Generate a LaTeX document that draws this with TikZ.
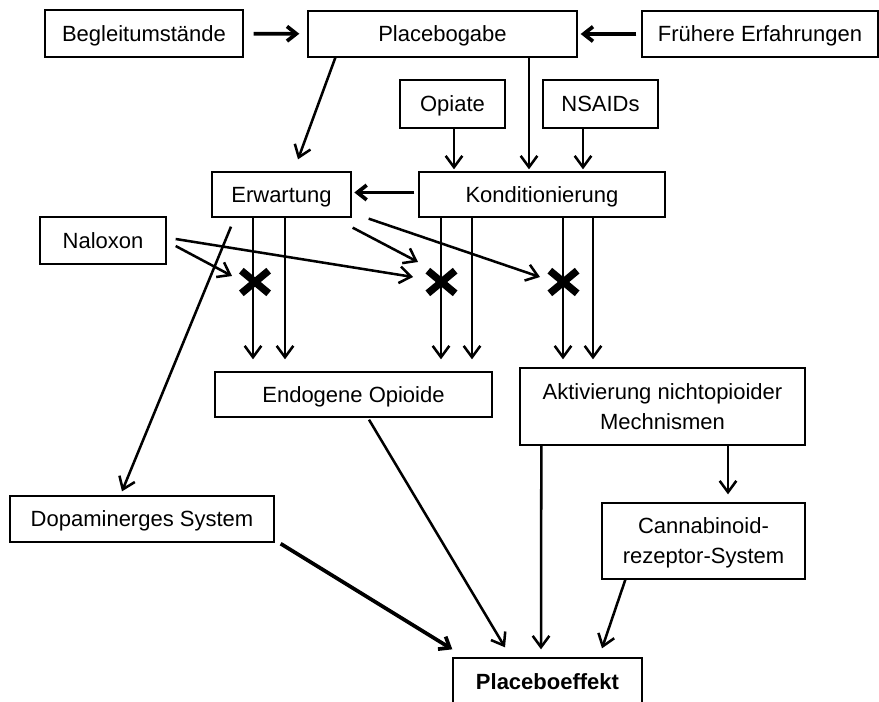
\documentclass[tikz,border=0pt]{standalone}
\usepackage{fontspec}
\setmainfont{Liberation Sans}
\usetikzlibrary{arrows.meta,calc,shapes.misc}
\begin{document}
\begin{tikzpicture}[x=0.75pt,y=-0.75pt,
  box/.style={draw,line width=1pt,inner sep=0pt,align=center,text depth=0pt,
    font=\fontsize{16.5}{22.5}\selectfont},
  arr/.style={line width=1.9pt,-{Straight Barb[length=8.5pt,width=12.5pt]}},
  arrthick/.style={line width=2.8pt,-{Straight Barb[length=7pt,width=11pt]}},
  xmark/.style={cross out,draw,line width=5.5pt,minimum width=15pt,minimum height=11.5pt,inner sep=0pt}]
\useasboundingbox (0,0) rectangle (879,702);
% nodes
\node[box,minimum width=148.5pt,minimum height=35.25pt] (beg) at (144,33.5) {Begleitumstände};
\node[box,minimum width=201.75pt,minimum height=34.5pt] (pg) at (442.5,34) {Placebogabe};
\node[box,minimum width=177pt,minimum height=34.5pt] (fe) at (760,34) {Frühere Erfahrungen};
\node[box,minimum width=78.75pt,minimum height=36pt] (op) at (452.5,104) {Opiate};
\node[box,minimum width=86.25pt,minimum height=36pt] (ns) at (600.5,104) {NSAIDs};
\node[box,minimum width=104.25pt,minimum height=33.75pt] (erw) at (281.5,194.5) {Erwartung};
\node[box,minimum width=184.5pt,minimum height=33.75pt] (kond) at (542,194.5) {Konditionierung};
\node[box,minimum width=94.5pt,minimum height=35.25pt] (nal) at (103,240.5) {Naloxon};
\node[box,minimum width=207.75pt,minimum height=33.75pt] (endo) at (353.5,394.5) {Endogene Opioide};
\node[box,minimum width=213.75pt,minimum height=57.75pt] (akt) at (662.5,406.5) {Aktivierung nichtopioider\\Mechnismen};
\node[box,minimum width=198pt,minimum height=34.5pt] (dop) at (142,519) {Dopaminerges System};
\node[box,minimum width=152.25pt,minimum height=57pt] (can) at (703.5,541) {Cannabinoid-\\rezeptor-System};
\node[box,minimum width=141.75pt,minimum height=35.25pt,font=\fontsize{16.5}{22.5}\selectfont\bfseries] (pe) at (547.5,681.5) {Placeboeffekt};
% crosses
\node[xmark] (x1) at (255,282) {};
\node[xmark] (x2) at (441.5,282) {};
\node[xmark] (x3) at (563.5,282) {};
% columns
\coordinate (c1) at (253,0);
\coordinate (c2) at (285,0);
\coordinate (c3) at (441,0);
\coordinate (c4) at (472,0);
\coordinate (c5) at (563,0);
\coordinate (c6) at (593,0);
% top connectors
\draw[arrthick,shorten <=7.5pt,shorten >=6pt] (beg) -- (pg);
\draw[arrthick,shorten <=3.75pt,shorten >=2.25pt] (fe) -- (pg);
\draw[arr] ($(pg.south west)+(28,0)$) -- ($(erw.north)+(16.5,-12)$);
\draw[arr] ($(pg.south)+(86.5,0)$) -- ($(kond.north)+(-13,-2)$);
\draw[arr] ($(op.south)+(1.5,0)$) -- ($(kond.north)+(-88,-2)$);
\draw[arr] ($(ns.south)+(-17.5,0)$) -- ($(kond.north)+(41,-2)$);
\draw[arrthick,shorten <=3pt,shorten >=2pt] ($(kond.west)+(0,-2)$) -- ($(erw.east)+(0,-2)$);
% vertical arrows
\draw[arr,shorten >=9pt] (erw.south -| c1) -- (endo.north -| c1);
\draw[arr,shorten >=9pt] (erw.south -| c2) -- (endo.north -| c2);
\draw[arr,shorten >=9pt] (kond.south -| c3) -- (endo.north -| c3);
\draw[arr,shorten >=9pt] (kond.south -| c4) -- (endo.north -| c4);
\draw[arr,shorten >=6pt] (kond.south -| c5) -- (akt.north -| c5);
\draw[arr,shorten >=6pt] (kond.south -| c6) -- (akt.north -| c6);
% naloxon and expectation arrows to crosses
\draw[arr] ($(nal.east)+(9,5.5)$) -- ($(x1)+(-23,-6)$);
\draw[arr] ($(nal.east)+(9,-1.5)$) -- ($(x2)+(-28.5,-5)$);
\draw[arr] ($(erw.south east)+(1,10)$) -- ($(x2)+(-23.5,-20)$);
\draw[arr] ($(erw.south east)+(17,1)$) -- ($(x3)+(-23.5,-5)$);
\draw[arr] ($(erw.south)+(-50.5,9)$) -- ($(dop.north)+(-20,-4)$);
% bottom connectors
\draw[arr] ($(endo.south)+(15.5,2)$) -- ($(pe.north)+(-42.5,-10)$);
\draw[arrthick] ($(dop.south east)+(6,1)$) -- ($(pe.north west)+(0,-8)$);
\draw[arr] ($(akt.south west)+(22,0)$) -- ($(pe.north)+(-6.5,-8)$);
\draw[arr] ($(akt.south)+(65.5,0)$) -- ($(can.north)+(24.5,-8)$);
\draw[arr] ($(can.south west)+(24,0)$) -- ($(pe.north)+(54.5,-9)$);
\end{tikzpicture}
\end{document}
